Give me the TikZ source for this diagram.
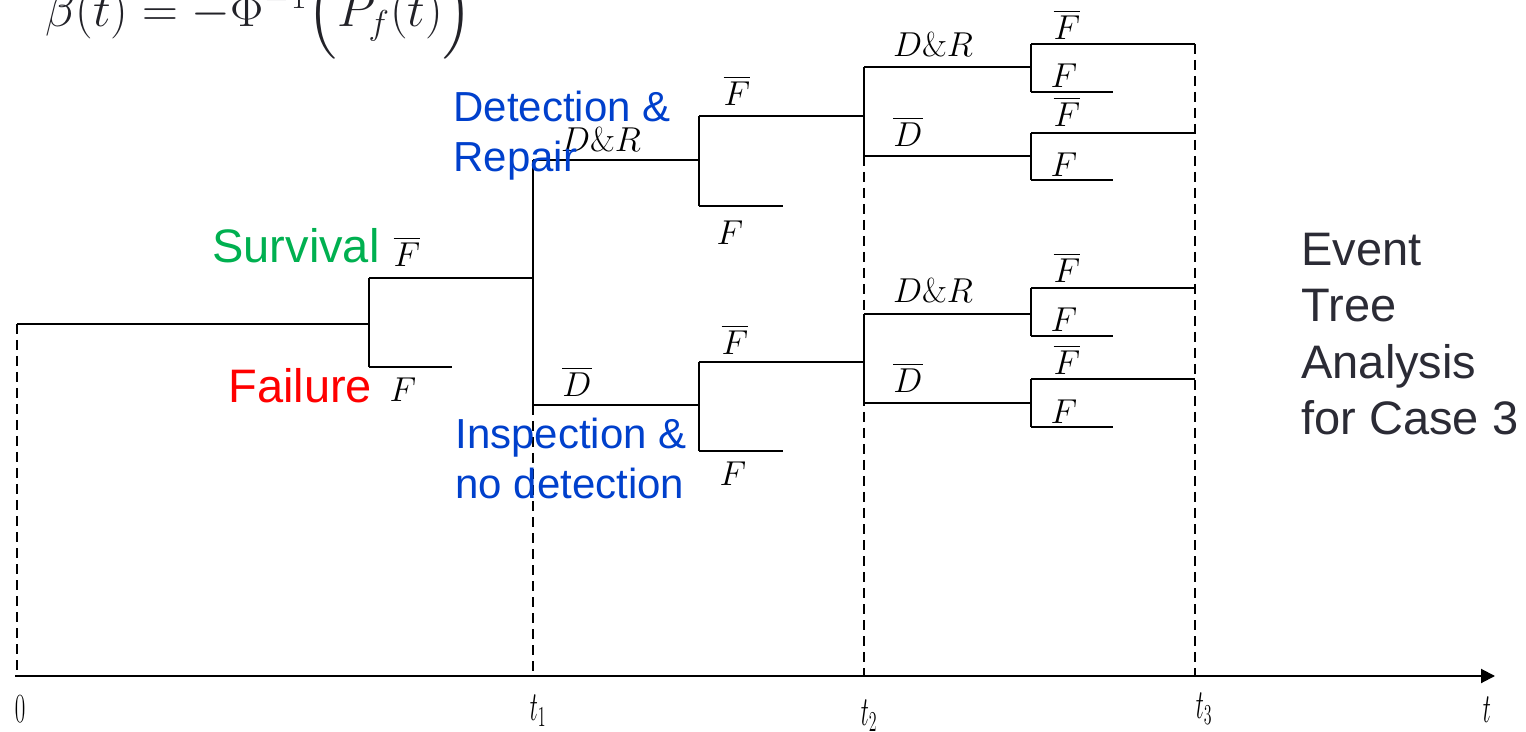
\documentclass[tikz,border=0pt]{standalone}
\usepackage{amsmath}
\usepackage[no-math]{fontspec}
\setmainfont{Liberation Sans}
\usetikzlibrary{arrows.meta}
\definecolor{survgreen}{RGB}{0,176,80}
\definecolor{failred}{RGB}{255,0,0}
\definecolor{noteblue}{RGB}{0,64,204}
\definecolor{notegray}{RGB}{43,43,53}
\definecolor{formula}{RGB}{34,34,40}
\newcommand{\DR}{D\mathit{\&}R}
\tikzset{
  tree/.style={line width=0.8pt, black},
  guide/.style={line width=0.6pt, black, dash pattern=on 5pt off 3pt},
  axisline/.style={line width=1pt, black, -{Triangle[length=7pt,width=7pt]}},
  lab/.style={inner sep=0pt, anchor=base, font=\fontsize{16}{18}\selectfont},
  tick/.style={inner sep=0pt, anchor=base, font=\fontsize{21}{24}\selectfont},
  bignote/.style={inner sep=0pt, anchor=base west, align=left, font=\fontsize{23.5}{28.3}\selectfont},
  bluenote/.style={inner sep=0pt, anchor=base west, align=left, text=noteblue, font=\fontsize{21}{25}\selectfont}
}
\begin{document}
\begin{tikzpicture}[x=0.5pt,y=-0.5pt]
\useasboundingbox (0,0) rectangle (1526,732);
\clip (0,0) rectangle (1526,732);
% junctions
\coordinate (s) at (17,324);
\coordinate (a) at (369,324);
\coordinate (aU) at (369,278);
\coordinate (aL) at (369,367);
\coordinate (aLe) at (452,367);
\coordinate (b) at (533,278);
\coordinate (bU) at (533,160);
\coordinate (bL) at (533,405);
\coordinate (c1) at (699,160);
\coordinate (c1U) at (699,116);
\coordinate (c1L) at (699,206);
\coordinate (c1Le) at (783,206);
\coordinate (c2) at (699,405);
\coordinate (c2U) at (699,362);
\coordinate (c2L) at (699,451);
\coordinate (c2Le) at (783,451);
\coordinate (d1) at (864,116);
\coordinate (d1U) at (864,67);
\coordinate (d1L) at (864,156);
\coordinate (d2) at (864,362);
\coordinate (d2U) at (864,314);
\coordinate (d2L) at (864,403);
\coordinate (e1U) at (1031,44);
\coordinate (e1L) at (1031,92);
\coordinate (e1Ue) at (1195,44);
\coordinate (e1Le) at (1113,92);
\coordinate (e2U) at (1031,133);
\coordinate (e2L) at (1031,180);
\coordinate (e2Ue) at (1195,133);
\coordinate (e2Le) at (1113,180);
\coordinate (e3U) at (1031,288);
\coordinate (e3L) at (1031,336);
\coordinate (e3Ue) at (1195,288);
\coordinate (e3Le) at (1113,336);
\coordinate (e4U) at (1031,379);
\coordinate (e4L) at (1031,427);
\coordinate (e4Ue) at (1195,379);
\coordinate (e4Le) at (1113,427);
\coordinate (O) at (15,676);
\coordinate (T) at (1495,676);
% axis and guides
\draw[guide] (s) -- (s |- O);
\draw[guide] (bL) -- (bL |- O);
\draw[guide] (d1L) -- (d1L |- O);
\draw[guide] (e1Ue) -- (e1Ue |- O);
\draw[axisline] (O) -- (T);
% tree
\draw[tree] (s) -- (a);
\draw[tree] (aU) -- (aL);
\draw[tree] (aU) -- (b);
\draw[tree] (aL) -- (aLe);
\draw[tree] (bU) -- (bL);
\draw[tree] (bU) -- (c1);
\draw[tree] (bL) -- (c2);
\draw[tree] (c1U) -- (c1L);
\draw[tree] (c1U) -- (d1);
\draw[tree] (c1L) -- (c1Le);
\draw[tree] (c2U) -- (c2L);
\draw[tree] (c2U) -- (d2);
\draw[tree] (c2L) -- (c2Le);
\draw[tree] (d1U) -- (d1L);
\draw[tree] (d1U) -- (e1U |- d1U);
\draw[tree] (d1L) -- (e2U |- d1L);
\draw[tree] (d2U) -- (d2L);
\draw[tree] (d2U) -- (e3U |- d2U);
\draw[tree] (d2L) -- (e4U |- d2L);
\draw[tree] (e1U) -- (e1L);
\draw[tree] (e1U) -- (e1Ue);
\draw[tree] (e1L) -- (e1Le);
\draw[tree] (e2U) -- (e2L);
\draw[tree] (e2U) -- (e2Ue);
\draw[tree] (e2L) -- (e2Le);
\draw[tree] (e3U) -- (e3L);
\draw[tree] (e3U) -- (e3Ue);
\draw[tree] (e3L) -- (e3Le);
\draw[tree] (e4U) -- (e4L);
\draw[tree] (e4U) -- (e4Ue);
\draw[tree] (e4L) -- (e4Le);
% math labels
\node[lab] (l1) at (407,267) {$\overline{F}$};
\node[lab] (l2) at (403,402) {$F$};
\node[lab] (l3) at (601,152) {$\DR$};
\node[lab] (l4) at (577,397) {$\overline{D}$};
\node[lab] (l5) at (737,106) {$\overline{F}$};
\node[lab] (l6) at (730,245) {$F$};
\node[lab] (l7) at (735,355) {$\overline{F}$};
\node[lab] (l8) at (733,486) {$F$};
\node[lab] (l9) at (933,57) {$\DR$};
\node[lab] (l10) at (908,147) {$\overline{D}$};
\node[lab] (l11) at (933,303) {$\DR$};
\node[lab] (l12) at (908,393) {$\overline{D}$};
\node[lab] (l13) at (1067,40) {$\overline{F}$};
\node[lab] (l14) at (1064,88) {$F$};
\node[lab] (l15) at (1067,127) {$\overline{F}$};
\node[lab] (l16) at (1064,177) {$F$};
\node[lab] (l17) at (1067,283) {$\overline{F}$};
\node[lab] (l18) at (1064,332) {$F$};
\node[lab] (l19) at (1067,375) {$\overline{F}$};
\node[lab] (l20) at (1064,423) {$F$};
% axis labels
\node[tick] (t0) at (20,722) {\scalebox{0.55}[1]{$0$}};
\node[tick] (t1) at (538,720) {\scalebox{0.55}[1]{$t_1$}};
\node[tick] (t2) at (869,725) {\scalebox{0.55}[1]{$t_2$}};
\node[tick] (t3) at (1204,718) {\scalebox{0.55}[1]{$t_3$}};
\node[tick] (tt) at (1487,722) {\scalebox{0.55}[1]{$t$}};
% text notes
\node[bignote, text=survgreen] (surv) at (212,263) {Survival};
\node[bignote, text=failred] (fail) at (228,403) {Failure};
\node[bluenote] (det) at (453,172) {Detection \&\\Repair};
\node[bluenote] (insp) at (455,499) {Inspection \&\\no detection};
\node[bignote, text=notegray] (eta) at (1301,435) {Event\\Tree\\Analysis\\for Case 3};
\node[inner sep=0pt, anchor=base west, text=formula, font=\fontsize{27}{32}\selectfont] (beta) at (45,27) {$\beta(t) = -\Phi^{-1}\Bigl(P_f(t)\Bigr)$};
\end{tikzpicture}
\end{document}
